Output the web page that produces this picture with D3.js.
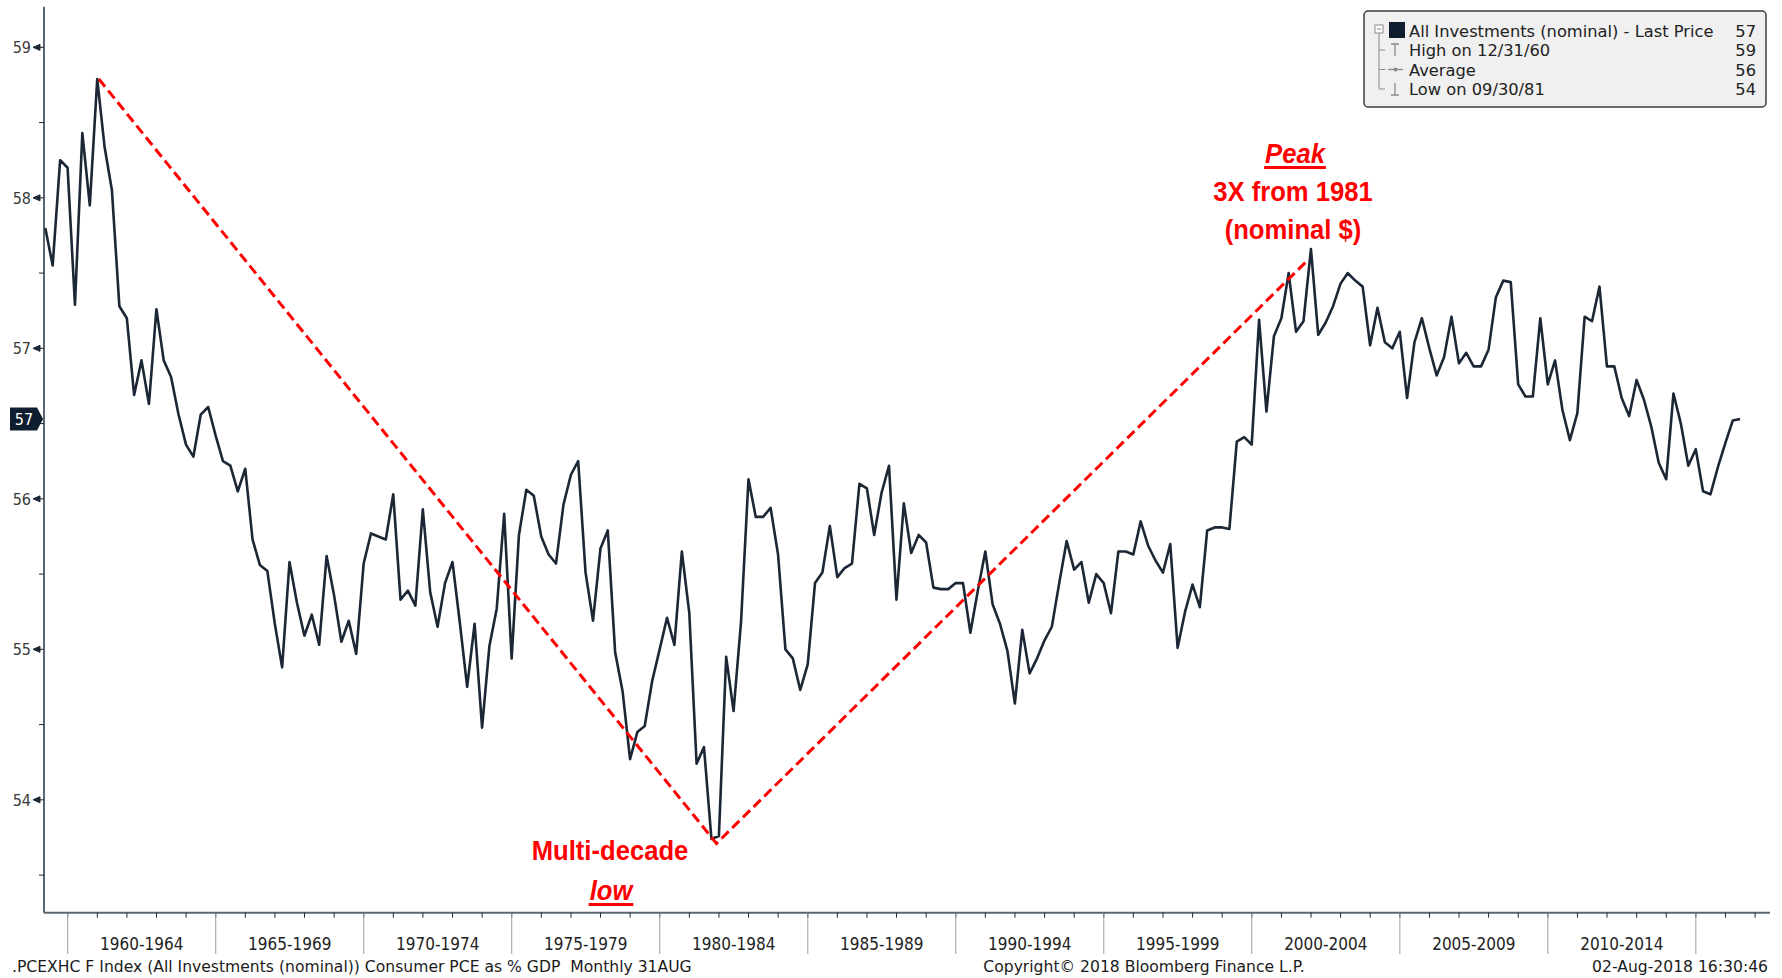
<!DOCTYPE html>
<html>
<head>
<meta charset="utf-8">
<script src="https://cdn.jsdelivr.net/npm/d3@7"></script>
<style>
  body { margin: 0; background: #fff; }
  svg { display: block; }
  text { font-family: "DejaVu Sans Condensed", "DejaVu Sans", sans-serif; }
  .wide { font-family: "DejaVu Sans", sans-serif; }
  .note { font-family: "Liberation Sans", Arial, sans-serif; font-weight: bold; fill: #ff0000; }
</style>
</head>
<body>
<div id="chart"></div>
<script>
const width = 1782, height = 978;

// quarterly values, Consumer PCE as % of GDP (All Investments, nominal)
const startYear = 1959;
const q1959 = [57.80, 57.55, 58.25, 58.20];
const q1960s = [57.29, 58.43, 57.95, 58.79, 58.34, 58.05, 57.28, 57.20, 56.69, 56.92,
                56.63, 57.26, 56.92, 56.81, 56.56, 56.36, 56.28, 56.56, 56.61, 56.42,
                56.25, 56.22, 56.05, 56.20, 55.73, 55.56, 55.52, 55.17, 54.88, 55.58,
                55.31, 55.09, 55.23, 55.03, 55.62, 55.36, 55.05, 55.19, 54.97, 55.57];
const q1970s = [55.77, 55.75, 55.73, 56.03, 55.33, 55.39, 55.29, 55.93, 55.38, 55.15,
                55.44, 55.58, 55.18, 54.75, 55.17, 54.48, 55.02, 55.27, 55.90, 54.94,
                55.76, 56.06, 56.02, 55.75, 55.63, 55.57, 55.96, 56.16, 56.25, 55.51,
                55.19, 55.67, 55.79, 54.98, 54.72, 54.27, 54.45, 54.49, 54.79, 55.00];
const q1980s = [55.21, 55.03, 55.65, 55.24, 54.24, 54.35, 53.74, 53.76, 54.95, 54.59,
                55.18, 56.13, 55.88, 55.88, 55.94, 55.63, 55.00, 54.94, 54.73, 54.90,
                55.44, 55.51, 55.82, 55.48, 55.54, 55.57, 56.10, 56.07, 55.76, 56.04,
                56.22, 55.33, 55.97, 55.64, 55.76, 55.71, 55.41, 55.40, 55.40, 55.44];
const q1990s = [55.44, 55.11, 55.39, 55.65, 55.30, 55.17, 54.99, 54.64, 55.13, 54.84,
                54.94, 55.06, 55.15, 55.44, 55.72, 55.53, 55.58, 55.31, 55.50, 55.44,
                55.24, 55.65, 55.65, 55.63, 55.85, 55.69, 55.59, 55.51, 55.70, 55.01,
                55.25, 55.43, 55.28, 55.79, 55.81, 55.81, 55.80, 56.38, 56.41, 56.36];
const q2000s = [57.19, 56.58, 57.08, 57.20, 57.50, 57.11, 57.18, 57.66, 57.09, 57.17,
                57.28, 57.43, 57.50, 57.45, 57.41, 57.02, 57.27, 57.04, 57.00, 57.11,
                56.67, 57.04, 57.20, 57.00, 56.82, 56.94, 57.21, 56.90, 56.97, 56.88,
                56.88, 56.99, 57.34, 57.45, 57.44, 56.76, 56.68, 56.68, 57.20, 56.76];
const q2010s = [56.92, 56.59, 56.39, 56.57, 57.21, 57.18, 57.41, 56.88, 56.88, 56.67,
                56.55, 56.79, 56.66, 56.48, 56.24, 56.13, 56.70, 56.50, 56.22, 56.33,
                56.05, 56.03, 56.21, 56.37, 56.52, 56.53];

const yTicks = [54, 55, 56, 57, 58, 59];
const yMinor = [53.5, 54.5, 55.5, 56.5, 57.5, 58.5];
const bandStarts = [1960, 1965, 1970, 1975, 1980, 1985, 1990, 1995, 2000, 2005, 2010, 2015];
const bandLabels = ["1960-1964", "1965-1969", "1970-1974", "1975-1979", "1980-1984", "1985-1989",
                    "1990-1994", "1995-1999", "2000-2004", "2005-2009", "2010-2014"];

// red trend annotation: high -> multi-decade low -> peak
const trendPoints = [[new Date(1961, 0, 19), 58.79], [new Date(1981, 11, 1), 53.71], [new Date(2001, 10, 10), 57.58]];

const legendRows = [
  {label: "All Investments (nominal) - Last Price", value: "57"},
  {label: "High on 12/31/60", value: "59"},
  {label: "Average", value: "56"},
  {label: "Low on 09/30/81", value: "54"}
];

const values = [].concat(q1959, q1960s, q1970s, q1980s, q1990s, q2000s, q2010s);
const data = values.map((v, i) => ({
  date: new Date(startYear + Math.floor(i / 4), (i % 4) * 3 + 3, 0),
  value: v
}));

const svg = d3.select("#chart").append("svg")
  .attr("width", width)
  .attr("height", height);

const x = d3.scaleTime()
  .domain([new Date(1959, 2, 15), new Date(2017, 6, 4)])
  .range([44, 1770]);
const y = d3.scaleLinear()
  .domain([53.25, 59.27])
  .range([912.7, 6.7]);

const axisColor = "#5b6670";
const ink = "#1b2735";

// left axis
svg.append("line")
  .attr("x1", 44).attr("x2", 44)
  .attr("y1", y.range()[1]).attr("y2", y.range()[0])
  .attr("stroke", axisColor).attr("stroke-width", 2);

yMinor.forEach(v => {
  svg.append("line")
    .attr("x1", 39).attr("x2", 44)
    .attr("y1", y(v)).attr("y2", y(v))
    .attr("stroke", ink).attr("stroke-width", 1);
});

yTicks.forEach(v => {
  const yy = y(v);
  svg.append("path")
    .attr("d", `M33,${yy} L40,${yy - 3} L40,${yy + 3} Z M40,${yy} L44,${yy}`)
    .attr("fill", ink).attr("stroke", ink).attr("stroke-width", 1);
  svg.append("text")
    .attr("x", 31).attr("y", yy)
    .attr("dy", "0.36em")
    .attr("text-anchor", "end")
    .attr("font-size", 16)
    .attr("fill", "#3a3a3a")
    .text(v);
});

// bottom axis
const axisY = y.range()[0];
svg.append("line")
  .attr("x1", 44).attr("x2", 1770)
  .attr("y1", axisY).attr("y2", axisY)
  .attr("stroke", axisColor).attr("stroke-width", 2);

d3.range(1960, 2018).forEach(yr => {
  const xx = x(new Date(yr, 0, 1));
  svg.append("line")
    .attr("x1", xx).attr("x2", xx)
    .attr("y1", axisY).attr("y2", axisY + 5)
    .attr("stroke", ink).attr("stroke-width", 1);
});

bandStarts.forEach(yr => {
  const xx = x(new Date(yr, 0, 1));
  svg.append("line")
    .attr("x1", xx).attr("x2", xx)
    .attr("y1", axisY).attr("y2", 954)
    .attr("stroke", "#9aa0a6").attr("stroke-width", 1);
});

bandLabels.forEach((lab, i) => {
  const x0 = x(new Date(bandStarts[i], 0, 1));
  const x1 = x(new Date(bandStarts[i + 1], 0, 1));
  svg.append("text")
    .attr("x", (x0 + x1) / 2).attr("y", 950)
    .attr("text-anchor", "middle")
    .attr("font-size", 17)
    .attr("fill", "#222")
    .text(lab);
});

// series
const line = d3.line()
  .x(d => x(d.date))
  .y(d => y(d.value));

svg.append("path")
  .datum(data)
  .attr("d", line)
  .attr("fill", "none")
  .attr("stroke", ink)
  .attr("stroke-width", 2.6)
  .attr("stroke-linejoin", "round");

// dashed trend lines
svg.append("path")
  .datum(trendPoints)
  .attr("d", d3.line().x(d => x(d[0])).y(d => y(d[1])))
  .attr("fill", "none")
  .attr("stroke", "#ff0000")
  .attr("stroke-width", 3)
  .attr("stroke-dasharray", "10,5");

// last price marker
const last = data[data.length - 1];
const ly = y(last.value);
svg.append("path")
  .attr("d", `M10,${ly - 11.5} L37,${ly - 11.5} L43,${ly} L37,${ly + 11.5} L10,${ly + 11.5} Z`)
  .attr("fill", "#0f1e2e");
svg.append("text")
  .attr("x", 24).attr("y", ly)
  .attr("dy", "0.36em")
  .attr("text-anchor", "middle")
  .attr("font-size", 16)
  .attr("fill", "#fff")
  .text(Math.round(last.value));

// annotations
function note(txt, cx, by, opts = {}) {
  const t = svg.append("text")
    .attr("class", "note")
    .attr("transform", `translate(${cx},${by}) scale(0.915,1)`)
    .attr("text-anchor", "middle")
    .attr("font-size", 28)
    .attr("font-style", opts.italic ? "italic" : "normal")
    .text(txt);
  if (opts.underline) {
    const w = t.node().getComputedTextLength() * 0.915;
    svg.append("rect")
      .attr("x", cx - w / 2 - 1).attr("y", by + 3)
      .attr("width", w + 2).attr("height", 3)
      .attr("fill", "#ff0000");
  }
}
note("Peak", 1295, 163, {italic: true, underline: true});
note("3X from 1981", 1293, 201);
note("(nominal $)", 1293, 239);
note("Multi-decade", 610, 860);
note("low", 611, 900, {italic: true, underline: true});

// legend
const lg = svg.append("g");
lg.append("rect")
  .attr("x", 1364).attr("y", 11)
  .attr("width", 402).attr("height", 96)
  .attr("rx", 4)
  .attr("fill", "#f0f0f0")
  .attr("stroke", "#3c3c3c").attr("stroke-width", 1.5);

const rowY = [36.5, 56, 75.5, 95];
const treeCol = "#8a8a8a";
lg.append("rect")
  .attr("x", 1375).attr("y", 25).attr("width", 8).attr("height", 8)
  .attr("fill", "#fff").attr("stroke", treeCol).attr("stroke-width", 1);
lg.append("line")
  .attr("x1", 1377).attr("x2", 1381).attr("y1", 29).attr("y2", 29)
  .attr("stroke", treeCol);
lg.append("line")
  .attr("x1", 1379).attr("x2", 1379).attr("y1", 33).attr("y2", rowY[3] - 6)
  .attr("stroke", treeCol);
rowY.slice(1).forEach(ry => {
  lg.append("line")
    .attr("x1", 1379).attr("x2", 1385).attr("y1", ry - 6).attr("y2", ry - 6)
    .attr("stroke", treeCol);
});
lg.append("rect")
  .attr("x", 1389).attr("y", 22).attr("width", 16).attr("height", 16)
  .attr("fill", "#0f1e2e");
// high icon
lg.append("path")
  .attr("d", `M1391,${rowY[1] - 12} L1399,${rowY[1] - 12} M1395,${rowY[1] - 12} L1395,${rowY[1]}`)
  .attr("stroke", treeCol).attr("stroke-width", 1.3).attr("fill", "none");
// average icon
lg.append("line")
  .attr("x1", 1388).attr("x2", 1403).attr("y1", rowY[2] - 6).attr("y2", rowY[2] - 6)
  .attr("stroke", treeCol).attr("stroke-width", 1.3);
lg.append("circle")
  .attr("cx", 1395.5).attr("cy", rowY[2] - 6).attr("r", 2)
  .attr("fill", treeCol);
// low icon
lg.append("path")
  .attr("d", `M1395,${rowY[3] - 12} L1395,${rowY[3]} M1391,${rowY[3]} L1399,${rowY[3]}`)
  .attr("stroke", treeCol).attr("stroke-width", 1.3).attr("fill", "none");

legendRows.forEach((r, i) => {
  lg.append("text")
    .attr("class", "wide")
    .attr("x", 1409).attr("y", rowY[i])
    .attr("font-size", 16.3)
    .attr("fill", "#222")
    .text(r.label);
  lg.append("text")
    .attr("class", "wide")
    .attr("x", 1756).attr("y", rowY[i])
    .attr("text-anchor", "end")
    .attr("font-size", 16.3)
    .attr("fill", "#222")
    .text(r.value);
});

// footer
svg.append("text")
  .attr("class", "wide")
  .attr("x", 12).attr("y", 972)
  .attr("font-size", 15.6)
  .attr("fill", "#1a1a1a")
  .attr("xml:space", "preserve")
  .text(".PCEXHC F Index (All Investments (nominal)) Consumer PCE as % GDP  Monthly 31AUG");
svg.append("text")
  .attr("class", "wide")
  .attr("x", 1144).attr("y", 972)
  .attr("text-anchor", "middle")
  .attr("font-size", 15.6)
  .attr("fill", "#1a1a1a")
  .text("Copyright\u00a9 2018 Bloomberg Finance L.P.");
svg.append("text")
  .attr("class", "wide")
  .attr("x", 1768).attr("y", 972)
  .attr("text-anchor", "end")
  .attr("font-size", 15.6)
  .attr("fill", "#1a1a1a")
  .text("02-Aug-2018 16:30:46");
</script>
</body>
</html>
